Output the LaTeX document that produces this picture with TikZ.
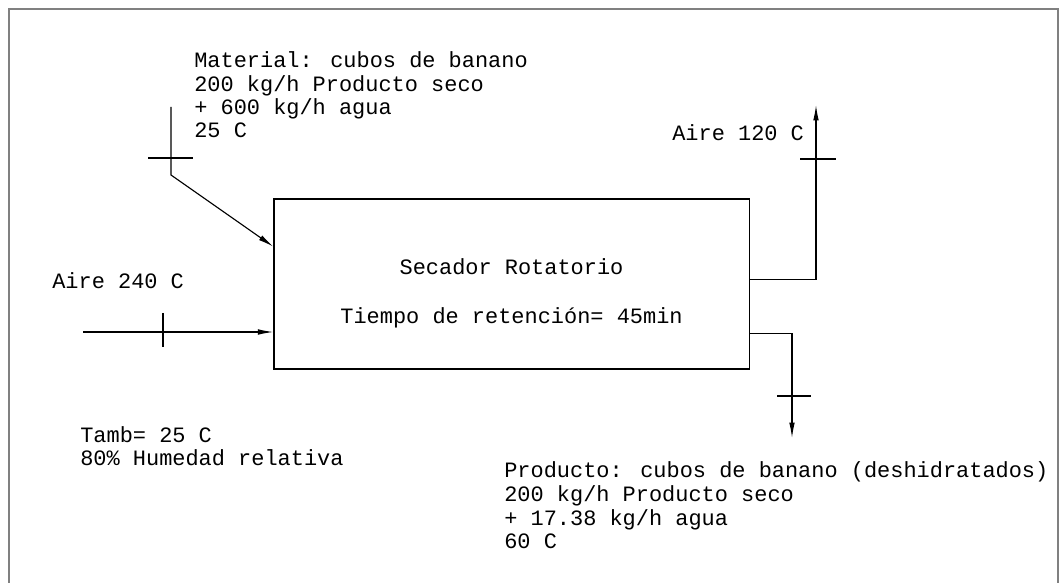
\documentclass[tikz,border=0pt]{standalone}
\usepackage{fontspec}
\setmainfont{Liberation Mono}
\usetikzlibrary{calc,arrows.meta}

\begin{document}
\begin{tikzpicture}[x=0.025cm,y=-0.025cm,>={Latex[length=11pt,width=4pt]},
  pipe/.style={line width=0.8pt},
  flow/.style={pipe,->},
  lbl/.style={anchor=base west,inner sep=0pt,font=\fontsize{15.6}{18}\selectfont},
  mid/.style={lbl,anchor=base}]
\useasboundingbox (0,0) rectangle (1060,583);
% marco
\draw[line width=1.4pt,gray] (9,583)--(9,9)--(1058,9)--(1058,583);
% secador
\node[draw,pipe,minimum width=11.875cm,minimum height=4.25cm] (dryer) at (511.5,284) {};
\node[mid] (dryerName) at (511.5,275) {Secador Rotatorio};
\node[mid] (dryerTime) at (511.5,324) {Tiempo de retención= 45min};
% material
\coordinate (matTop) at (171,107);
\coordinate (matBend) at (171,175);
\draw[flow] (matTop) -- (matBend) -- ($(dryer.north west)!0.282!(dryer.south west)$);
\draw[pipe] (matTop) ++(-23,51) -- ++(45,0);
\node[lbl] (matL1) at (194,68) {Material: cubos de banano};
\node[lbl] (matL2) at (194,92) {200 kg/h Producto seco};
\node[lbl] (matL3) at (194,115) {+ 600 kg/h agua};
\node[lbl] (matL4) at (194,138) {25 C};
% aire entrada
\coordinate (airIn) at (83,332);
\draw[flow] (airIn) -- (airIn -| dryer.west);
\draw[pipe] (163,313) -- (163,347);
\node[lbl] (airInL) at (52,289) {Aire 240 C};
% aire salida
\coordinate (airOut) at (816,105);
\draw[flow] ($(dryer.north east)!0.476!(dryer.south east)$) -| (airOut);
\draw[pipe] (airOut) ++(-16,54) -- ++(36,0);
\node[lbl] (airOutL) at (672,141) {Aire 120 C};
% producto
\coordinate (prodOut) at (792,438);
\draw[flow] ($(dryer.north east)!0.788!(dryer.south east)$) -| (prodOut);
\draw[pipe] (prodOut) ++(-15,-42) -- ++(34,0);
\node[lbl] (prodL1) at (504,477) {Producto: cubos de banano (deshidratados)};
\node[lbl] (prodL2) at (504,501) {200 kg/h Producto seco};
\node[lbl] (prodL3) at (504,525) {+ 17.38 kg/h agua};
\node[lbl] (prodL4) at (504,548) {60 C};
% ambiente
\node[lbl] (ambL1) at (80,442) {Tamb= 25 C};
\node[lbl] (ambL2) at (80,465) {80\% Humedad relativa};
\end{tikzpicture}
\end{document}
